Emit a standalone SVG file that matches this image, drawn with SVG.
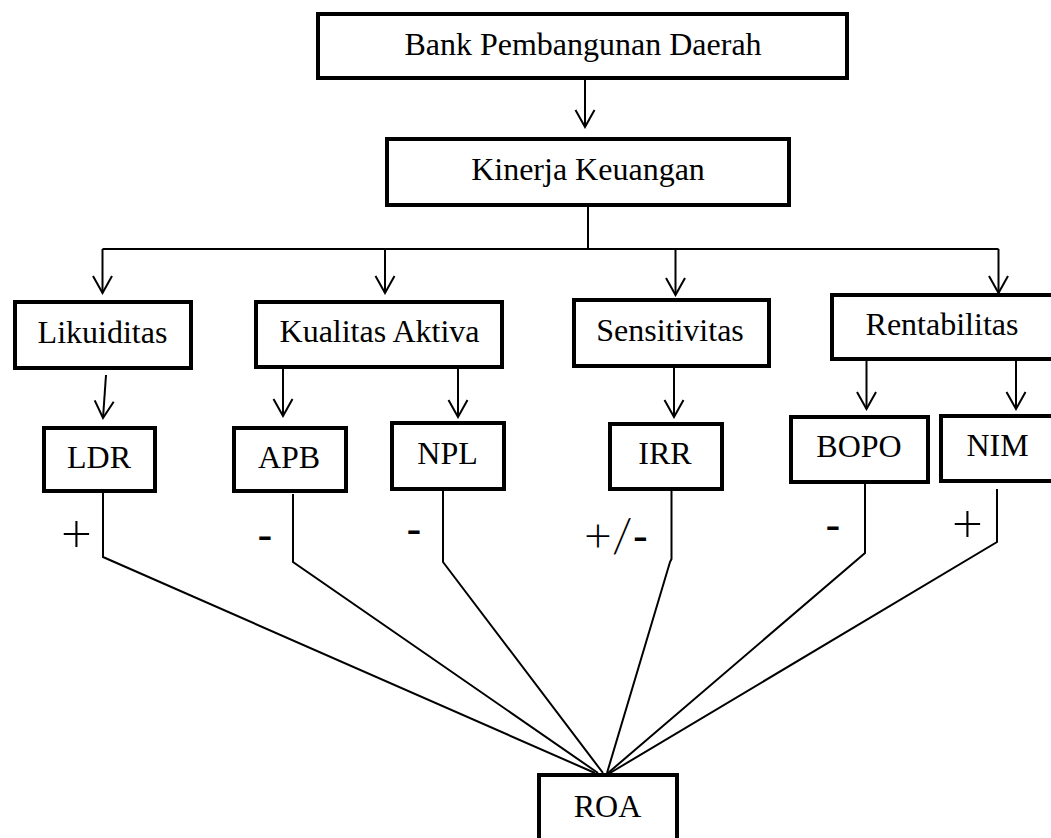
<svg xmlns="http://www.w3.org/2000/svg" width="1051" height="838" viewBox="0 0 1051 838">
<style>
.box{fill:#fff;stroke:#000;stroke-width:4;}
.lbl{font-family:"Liberation Serif","Times New Roman",serif;font-size:32px;fill:#000;text-anchor:middle;}
.sign{font-family:"Liberation Sans",Arial,sans-serif;font-size:46px;fill:#000;text-anchor:middle;}
.plus{font-family:"Lato","Liberation Sans",Arial,sans-serif;font-weight:300;font-size:54px;fill:#000;text-anchor:middle;}
.ln{fill:none;stroke:#000;stroke-width:2;}
.ar{fill:none;stroke:#000;stroke-width:2;marker-end:url(#ah);}
</style>
<defs>
<marker id="ah" viewBox="-20 -11 22 22" markerWidth="22" markerHeight="22" refX="0" refY="0" orient="auto" markerUnits="userSpaceOnUse">
<path d="M -17 -9.5 L 0 0 L -17 9.5" fill="none" stroke="#000" stroke-width="2"/>
</marker>
</defs>
<rect width="1051" height="838" fill="#fff"/>
<g id="connectors">
<line class="ar" x1="585" y1="80" x2="585" y2="127"/>
<polyline class="ln" points="588,207 588,249"/>
<line class="ln" x1="102.5" y1="249" x2="998.5" y2="249"/>
<line class="ar" x1="102.5" y1="249" x2="102.5" y2="293"/>
<line class="ar" x1="385" y1="249" x2="385" y2="293"/>
<line class="ar" x1="675.5" y1="249" x2="675.5" y2="295"/>
<line class="ar" x1="998.5" y1="249" x2="998.5" y2="293"/>
<line class="ar" x1="106" y1="375" x2="103" y2="418"/>
<line class="ar" x1="283" y1="369" x2="283" y2="416"/>
<line class="ar" x1="458" y1="369" x2="458" y2="417"/>
<line class="ar" x1="674" y1="368" x2="674" y2="417"/>
<line class="ar" x1="866.5" y1="361" x2="866.5" y2="409"/>
<line class="ar" x1="1016" y1="361" x2="1016" y2="409"/>
<polyline class="ln" points="103,489 103,557 595,773"/>
<polyline class="ln" points="293,494 293,562 598,773"/>
<polyline class="ln" points="443,491 443,562 603,773"/>
<polyline class="ln" points="671.5,491 671.5,559 670,562 607,773"/>
<polyline class="ln" points="865,484 865,553 608,773"/>
<polyline class="ln" points="997,489 997,542 610,773"/>
</g>
<g id="bank"><rect class="box" x="318" y="14" width="529" height="64"/><text class="lbl" x="583" y="55">Bank Pembangunan Daerah</text></g>
<g id="kinerja"><rect class="box" x="387" y="139" width="402" height="66"/><text class="lbl" x="588" y="180">Kinerja Keuangan</text></g>
<g id="likuiditas"><rect class="box" x="15" y="302" width="176" height="66"/><text class="lbl" x="102.5" y="342.5">Likuiditas</text></g>
<g id="kualitas"><rect class="box" x="256" y="302" width="246" height="65"/><text class="lbl" x="379.5" y="342">Kualitas Aktiva</text></g>
<g id="sensitivitas"><rect class="box" x="574" y="300" width="195" height="66"/><text class="lbl" x="670" y="341">Sensitivitas</text></g>
<g id="rentabilitas"><rect class="box" x="832" y="295" width="230" height="64"/><text class="lbl" x="942" y="335">Rentabilitas</text></g>
<g id="ldr"><rect class="box" x="44" y="428" width="111" height="63"/><text class="lbl" x="99" y="468">LDR</text></g>
<g id="apb"><rect class="box" x="234" y="428" width="112" height="63"/><text class="lbl" x="289" y="468">APB</text></g>
<g id="npl"><rect class="box" x="392" y="423" width="112" height="66"/><text class="lbl" x="447.5" y="464">NPL</text></g>
<g id="irr"><rect class="box" x="610" y="424" width="112" height="65"/><text class="lbl" x="665" y="464">IRR</text></g>
<g id="bopo"><rect class="box" x="791" y="417" width="137" height="65"/><text class="lbl" x="859" y="456.5">BOPO</text></g>
<g id="nim"><rect class="box" x="941" y="416" width="121" height="65"/><text class="lbl" x="997.5" y="456">NIM</text></g>
<g id="roa"><rect class="box" x="539" y="775" width="138" height="120"/><text class="lbl" x="607.5" y="817">ROA</text></g>
<g id="signs">
<text class="plus" x="76.5" y="551.5">+</text>
<text class="sign" x="265" y="551">-</text>
<text class="sign" x="414" y="545">-</text>
<text class="sign" x="616" y="552"><tspan class="plus" style="font-size:48px">+/</tspan>-</text>
<text class="sign" x="833" y="541">-</text>
<text class="plus" x="967.5" y="542">+</text>
</g>
</svg>
